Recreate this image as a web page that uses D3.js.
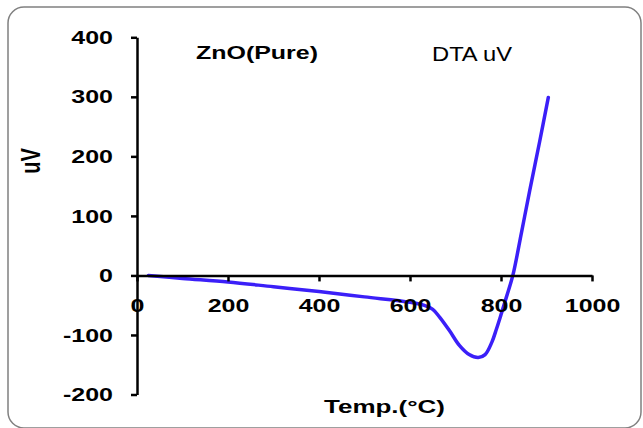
<!DOCTYPE html>
<html>
<head>
<meta charset="utf-8">
<script src="https://cdn.jsdelivr.net/npm/d3@7"></script>
<style>
    body { margin: 0; background: #fff; }
    svg { display: block; }
    text { font-family: Arial, "Liberation Sans", sans-serif; fill: #000; }
</style>
</head>
<body>
<svg id="chart" width="643" height="428"></svg>
<script>
// DTA curve, temperature (°C) vs signal (uV)
const temps = [25, 100, 200, 300, 400, 500, 600, 630, 650, 665, 687, 709, 730, 750, 765, 780, 790, 800, 812, 826, 845, 863, 885, 904];
const dta   = [0, -5, -11, -19, -27, -36, -45, -50, -57, -70, -93, -118, -133, -138, -133, -112, -90, -66, -36, 0, 72, 142, 225, 299];

const xTicks = [0, 200, 400, 600, 800, 1000];
const yTicks = [-200, -100, 0, 100, 200, 300, 400];

const TITLE = "ZnO(Pure)";
const SERIES_NAME = "DTA uV";
const X_TITLE = "Temp.(\u00B0C)";
const Y_TITLE = "uV";

const LINE_COR = "#3b1ff8";
const AXIS_WID = 2.5;
const TEXT_SX = 1.35;   // the source picture is stretched sideways

const svg = d3.select("#chart");

// rounded frame
svg.append("rect")
    .attr("x", 8)
    .attr("y", 7)
    .attr("width", 633)
    .attr("height", 421)
    .attr("rx", 16)
    .attr("fill", "#fff")
    .attr("stroke", "#808080")
    .attr("stroke-width", 1.5);

const x = d3.scaleLinear().domain([0, 1000]).range([137, 592]);
const y = d3.scaleLinear().domain([-200, 400]).range([394.5, 37.3]);

const g = svg.append("g");

// x axis sits on y = 0
const xAxis = g.append("g")
    .attr("transform", `translate(0,${y(0)})`)
    .call(d3.axisBottom(x).tickValues(xTicks).tickSize(6).tickSizeOuter(0).tickPadding(17.5).tickFormat(d => String(d)));

const yAxis = g.append("g")
    .attr("transform", `translate(${x(0)},0)`)
    .call(d3.axisLeft(y).tickValues(yTicks).tickSize(6).tickSizeOuter(0).tickPadding(18).tickFormat(d => String(d)));

[xAxis, yAxis].forEach(a => {
    a.selectAll("path, line")
        .attr("stroke", "#000")
        .attr("stroke-width", AXIS_WID);
    a.selectAll("text")
        .attr("font-size", 18.5)
        .attr("font-weight", "bold")
        .attr("font-family", "Arial, 'Liberation Sans', sans-serif")
        .attr("fill", "#000");
});
yAxis.selectAll("text").attr("dy", "0.33em");

// curve
const line = d3.line()
    .x((d, i) => x(temps[i]))
    .y(d => y(d))
    .curve(d3.curveCatmullRom.alpha(0.5));

g.append("path")
    .attr("d", line(dta))
    .attr("fill", "none")
    .attr("stroke", LINE_COR)
    .attr("stroke-width", 3.5)
    .attr("stroke-linejoin", "round")
    .attr("stroke-linecap", "round");

// x labels are drawn over the curve
xAxis.raise();

// titles
g.append("text")
    .text(TITLE)
    .attr("x", 196)
    .attr("y", 59)
    .attr("font-size", 18)
    .attr("font-weight", "bold")
    .attr("textLength", 122)
    .attr("lengthAdjust", "spacingAndGlyphs");

g.append("text")
    .text(SERIES_NAME)
    .attr("x", 432)
    .attr("y", 60.5)
    .attr("font-size", 19.5)
    .attr("textLength", 80)
    .attr("lengthAdjust", "spacingAndGlyphs");

g.append("text")
    .text(X_TITLE)
    .attr("x", 324)
    .attr("y", 412.5)
    .attr("font-size", 19)
    .attr("font-weight", "bold")
    .attr("textLength", 121)
    .attr("lengthAdjust", "spacingAndGlyphs");

g.append("text")
    .text(Y_TITLE)
    .attr("text-anchor", "middle")
    .attr("transform", `translate(40,161) scale(${TEXT_SX},1) rotate(-90)`)
    .attr("font-size", 20)
    .attr("font-weight", "bold");

// stretch tick labels sideways like the source
g.selectAll(".tick text").each(function () {
    const t = d3.select(this);
    t.attr("textLength", this.getComputedTextLength() * TEXT_SX)
        .attr("lengthAdjust", "spacingAndGlyphs");
});
</script>
</body>
</html>
